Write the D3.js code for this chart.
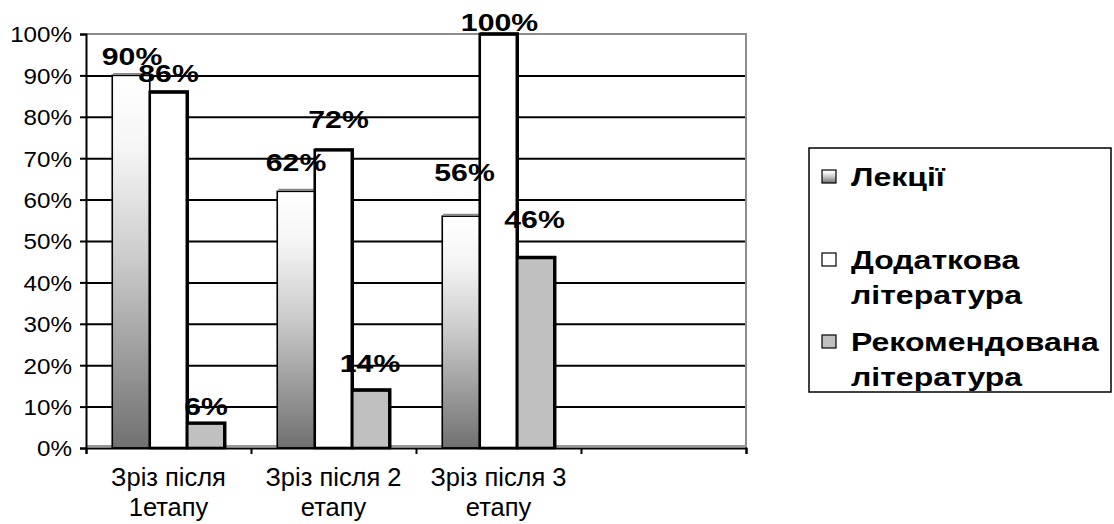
<!DOCTYPE html>
<html><head><meta charset="utf-8">
<script src="https://cdn.jsdelivr.net/npm/d3@7"></script>
<style>
html,body{margin:0;padding:0;background:#fff;}
svg{display:block;font-family:"Liberation Sans",Arial,sans-serif;}
</style></head>
<body>
<svg id="chart" width="1114" height="524"></svg>
<script>
// ---- data ----
const categories = ["Зріз після 1етапу", "Зріз після 2 етапу", "Зріз після 3 етапу", ""];
const categoryLines = [["Зріз після", "1етапу"], ["Зріз після 2", "етапу"], ["Зріз після 3", "етапу"], [""]];
const seriesNames = ["Лекції", "Додаткова література", "Рекомендована література"];
const legendLines = [["Лекції"], ["Додаткова", "література"], ["Рекомендована", "література"]];
const lectures = [0.90, 0.62, 0.56];
const additional = [0.86, 0.72, 1.00];
const recommended = [0.06, 0.14, 0.46];
const yTickValues = [0, 0.1, 0.2, 0.3, 0.4, 0.5, 0.6, 0.7, 0.8, 0.9, 1.0];
const yTickLabels = ["0%", "10%", "20%", "30%", "40%", "50%", "60%", "70%", "80%", "90%", "100%"];

// ---- layout (manual label placement as in the original: [dx, gap above bar]) ----
const labelNudge = [
  [[1, 10], [0, 20], [3.5, 35]],
  [[0, 10], [5, 22], [1, 3]],
  [[0, 8], [-1, 18], [-1.5, 30]]
];

const seriesData = [lectures, additional, recommended];
const svg = d3.select("#chart");
const L = 86, R = 746, T = 34, B = 448;

const x = d3.scaleBand().domain(d3.range(categories.length)).range([L, R]).padding(0);
const xs = d3.scaleBand().domain(d3.range(seriesNames.length)).range([0, x.bandwidth()]).paddingInner(0).paddingOuter(0.7);
const y = d3.scaleLinear().domain([0, 1]).range([B, T]);

function stext(parent, px, py, txt, o) {
  return parent.append("text")
    .attr("transform", `translate(${px},${py}) scale(${o.sx || 1},1)`)
    .attr("text-anchor", o.anchor || "start")
    .attr("font-size", o.size)
    .attr("font-weight", o.weight || "normal")
    .attr("fill", "#000")
    .text(txt);
}

const defs = svg.append("defs");
const grad = defs.append("linearGradient").attr("id", "lecGrad").attr("x1", 0).attr("y1", 0).attr("x2", 0).attr("y2", 1);
[[0, "#ffffff"], [0.2, "#f5f5f5"], [0.5, "#cacaca"], [1, "#707070"]].forEach(s =>
  grad.append("stop").attr("offset", s[0]).attr("stop-color", s[1]));

// gridlines
const grid = svg.append("g").attr("transform", `translate(${L},0)`)
  .call(d3.axisLeft(y).tickValues(yTickValues.slice(1, -1)).tickSize(-(R - L)).tickFormat(""));
grid.select(".domain").remove();
grid.selectAll("line").attr("stroke", "#000").attr("stroke-width", 2);

// top & right border (grey)
svg.append("path").attr("d", `M${L},${y(1)}H${R}V${B}`).attr("fill", "none").attr("stroke", "#8c8c8c").attr("stroke-width", 2);
// floor
svg.append("line").attr("x1", L).attr("x2", R).attr("y1", B - 2).attr("y2", B - 2).attr("stroke", "#9a9a9a").attr("stroke-width", 2);

// bars
const fills = ["url(#lecGrad)", "#ffffff", "#c0c0c0"];
const strokeW = [1.6, 2.6, 2.6];
seriesData.forEach((vals, si) => {
  const g = svg.append("g");
  g.selectAll("rect").data(vals).join("rect")
    .attr("x", (d, i) => x(i) + xs(si))
    .attr("width", xs.bandwidth())
    .attr("y", d => y(d))
    .attr("height", d => B - y(d))
    .attr("fill", fills[si])
    .attr("stroke", "#000")
    .attr("stroke-width", strokeW[si]);
  if (si === 0) {
    g.selectAll("line.cap").data(vals).join("line").attr("class", "cap")
      .attr("x1", (d, i) => x(i) + xs(si) + 1).attr("x2", (d, i) => x(i) + xs(si) + xs.bandwidth() - 1)
      .attr("y1", d => y(d) - 1.5).attr("y2", d => y(d) - 1.5)
      .attr("stroke", "#8a8a8a").attr("stroke-width", 2);
  } else {
    g.selectAll("path.edge").data(vals).join("path").attr("class", "edge")
      .attr("d", (d, i) => {
        const x0 = x(i) + xs(si), x1 = x0 + xs.bandwidth();
        return `M${x0},${y(d)}H${x1}V${B}`;
      })
      .attr("fill", "none").attr("stroke", "#000").attr("stroke-width", 3.4);
  }
});

// left axis
const tickSx = 1.1;
const ax = svg.append("g").attr("transform", `translate(${L},0)`)
  .call(d3.axisLeft(y).tickValues(yTickValues).tickFormat((d, i) => yTickLabels[i]).tickSize(6).tickPadding(8));
ax.select(".domain").attr("stroke", "#000").attr("stroke-width", 2);
ax.selectAll(".tick line").attr("stroke", "#000").attr("stroke-width", 2);
ax.selectAll(".tick text").attr("fill", "#000").attr("font-size", 22)
  .attr("font-family", "Liberation Sans, Arial, sans-serif").attr("dy", "0.36em")
  .attr("x", -14 / tickSx).attr("transform", `scale(${tickSx},1)`);

// bottom axis
const xb = d3.scaleLinear().domain([0, categories.length]).range([L, R]);
const bx = svg.append("g").attr("transform", `translate(0,${B})`)
  .call(d3.axisBottom(xb).tickValues(d3.range(categories.length + 1)).tickFormat("").tickSize(6));
bx.select(".domain").attr("stroke", "#000").attr("stroke-width", 2);
bx.selectAll(".tick line").attr("stroke", "#000").attr("stroke-width", 2);

// category labels
categoryLines.forEach((lines, i) => {
  lines.forEach((t, k) => {
    stext(svg, x(i) + x.bandwidth() / 2, 486 + k * 30, t, { size: 26, anchor: "middle", sx: 0.98 });
  });
});

// data labels
seriesData.forEach((vals, si) => {
  vals.forEach((v, i) => {
    const n = labelNudge[si][i];
    stext(svg, x(i) + xs(si) + xs.bandwidth() / 2 + n[0], y(v) - n[1], Math.round(v * 100) + "%",
      { size: 24, weight: "bold", anchor: "middle", sx: 1.26 });
  });
});

// legend
const lg = svg.append("g");
lg.append("rect").attr("x", 809).attr("y", 148).attr("width", 302).attr("height", 244)
  .attr("fill", "#fff").attr("stroke", "#000").attr("stroke-width", 1.5);
const legY = [186, 269, 351];
legendLines.forEach((lines, si) => {
  lg.append("rect").attr("x", 822).attr("y", legY[si] - 16).attr("width", 14).attr("height", 13)
    .attr("fill", fills[si]).attr("stroke", "#000").attr("stroke-width", 1.2);
  lines.forEach((t, k) => {
    stext(lg, 851, legY[si] + k * 35, t, { size: 25, weight: "bold", sx: 1.28 });
  });
});
</script>
</body></html>
